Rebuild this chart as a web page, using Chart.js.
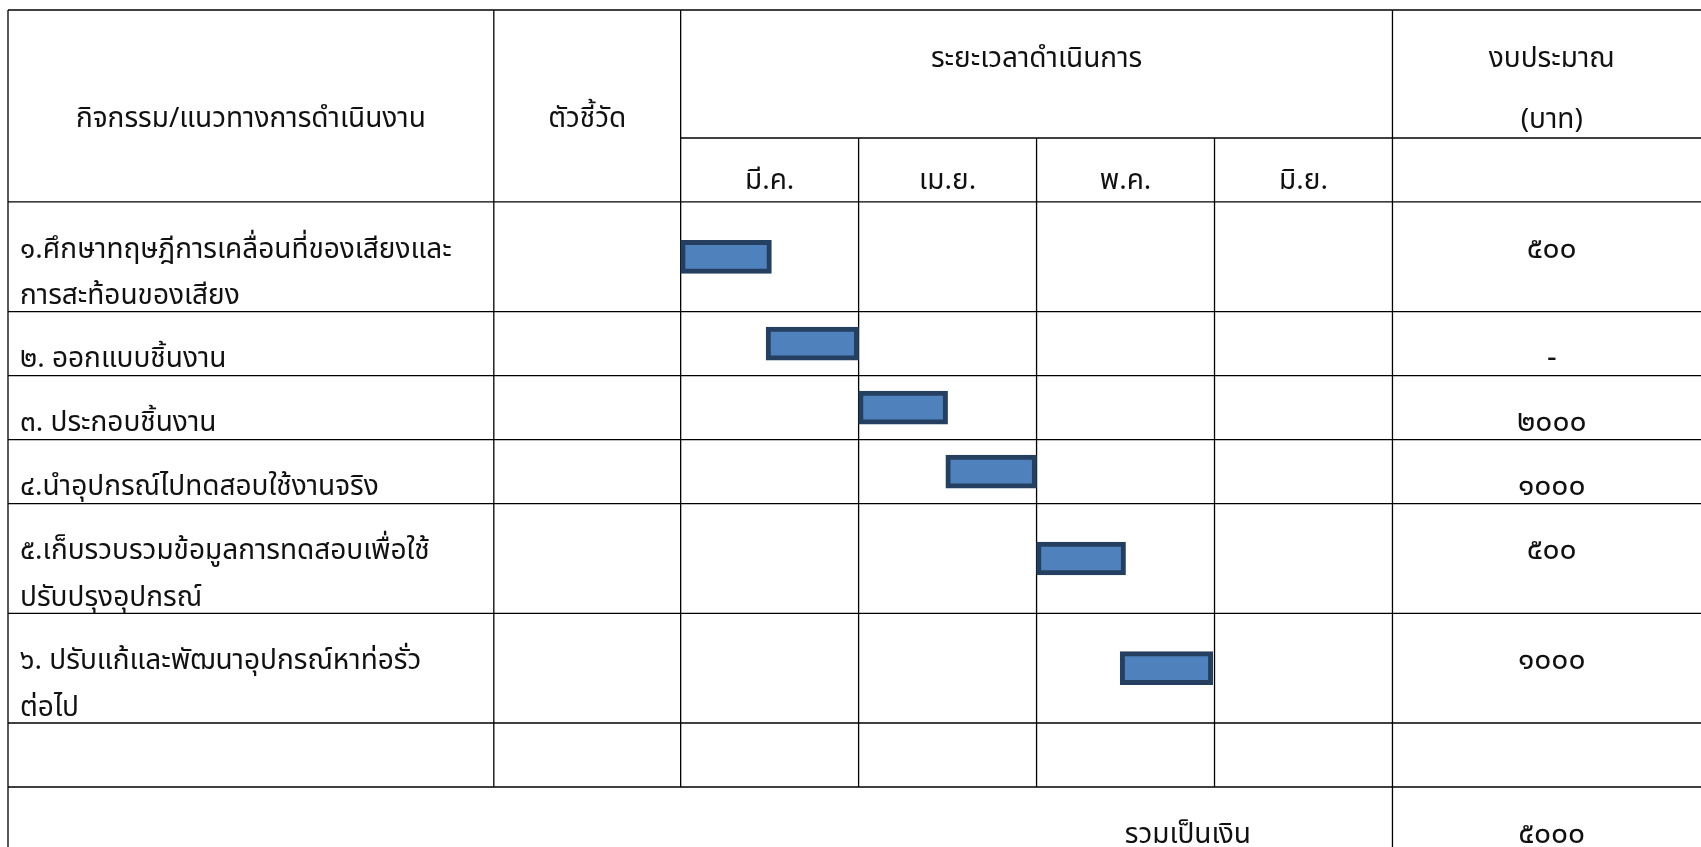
<!DOCTYPE html>
<html lang="th">
<head>
    <meta charset="UTF-8">
    <title>แผนการดำเนินงาน</title>
    <script src="https://cdn.jsdelivr.net/npm/chart.js"></script>
    <style>
        html, body { margin: 0; padding: 0; background: #fff; overflow: hidden; }
        #wrap { width: 1720px; height: 860px; }
    </style>
</head>
<body>
    <div id="wrap"><canvas id="plan" width="1720" height="860"></canvas></div>

    <script>
        // --- données ---
        const headActivity = 'กิจกรรม/แนวทางการดำเนินงาน';
        const headIndicator = 'ตัวชี้วัด';
        const headPeriod = 'ระยะเวลาดำเนินการ';
        const headBudget = ['งบประมาณ', '(บาท)'];
        const months = ['มี.ค.', 'เม.ย.', 'พ.ค.', 'มิ.ย.'];
        const activities = [
            ['๑.ศึกษาทฤษฎีการเคลื่อนที่ของเสียงและ', 'การสะท้อนของเสียง'],
            ['๒. ออกแบบชิ้นงาน'],
            ['๓. ประกอบชิ้นงาน'],
            ['๔.นำอุปกรณ์ไปทดสอบใช้งานจริง'],
            ['๕.เก็บรวบรวมข้อมูลการทดสอบเพื่อใช้', 'ปรับปรุงอุปกรณ์'],
            ['๖. ปรับแก้และพัฒนาอุปกรณ์หาท่อรั่ว', 'ต่อไป']
        ];
        const budgets = ['๕๐๐', '-', '๒๐๐๐', '๑๐๐๐', '๕๐๐', '๑๐๐๐'];
        // début / fin en mois (0 = début mars)
        const barStart = [0, 0.48, 1, 1.49, 2, 2.47];
        const barEnd = [0.51, 1, 1.5, 2, 2.5, 2.99];
        const totalLabel = 'รวมเป็นเงิน';
        const totalBudget = '๕๐๐๐';

        // --- mise en page (unités : mois en x, lignes de texte en y) ---
        const COL = { activity: 2.73, indicator: 1.05, budget: 1.79 };
        const ROW_PAD = 0.4;
        const HEAD_TOP = 2.8;
        const HEAD_MONTH = 1.4;
        const FONT = "'Noto Sans Thai', 'Leelawadee UI', Tahoma, 'Noto Sans', sans-serif";
        const FONT_SIZE = 28;
        const NUM_SIZE = 30;

        const xLeft = -(COL.activity + COL.indicator);
        const xInd = -COL.indicator;
        const xBudget = months.length;
        const xRight = months.length + COL.budget;

        // limites des lignes du tableau
        const rowTops = [];
        let yCur = HEAD_TOP + HEAD_MONTH;
        activities.forEach(lines => {
            rowTops.push(yCur);
            yCur += lines.length + ROW_PAD;
        });
        const yEmpty = yCur;
        const yTotal = yEmpty + 1 + ROW_PAD;
        const yMax = yTotal + 1 + ROW_PAD;

        const bars = activities.map((lines, i) => ({
            x: [barStart[i], barEnd[i]],
            y: rowTops[i] + (lines.length + ROW_PAD) / 2
        }));

        const tablePlugin = {
            id: 'tablePlugin',
            beforeDatasetsDraw(chart) {
                const ctx = chart.ctx;
                const px = v => chart.scales.x.getPixelForValue(v);
                const py = v => chart.scales.y.getPixelForValue(v);
                ctx.save();
                ctx.strokeStyle = '#000';
                ctx.lineWidth = 1.3;
                const hLine = (y, a, b) => { ctx.beginPath(); ctx.moveTo(px(a), py(y)); ctx.lineTo(px(b), py(y)); ctx.stroke(); };
                const vLine = (x, a, b) => { ctx.beginPath(); ctx.moveTo(px(x), py(a)); ctx.lineTo(px(x), py(b)); ctx.stroke(); };

                hLine(0, xLeft, xRight);
                hLine(HEAD_TOP, 0, xRight);
                hLine(HEAD_TOP + HEAD_MONTH, xLeft, xRight);
                rowTops.forEach((t, i) => { if (i > 0) hLine(t, xLeft, xRight); });
                hLine(yEmpty, xLeft, xRight);
                hLine(yTotal, xLeft, xRight);
                hLine(yMax, xLeft, xRight);

                vLine(xLeft, 0, yMax);
                vLine(xInd, 0, yTotal);
                vLine(0, 0, yTotal);
                for (let m = 1; m < months.length; m++) vLine(m, HEAD_TOP, yTotal);
                vLine(xBudget, 0, yMax);
                vLine(xRight, 0, yMax);
                ctx.restore();
            },
            afterDatasetsDraw(chart) {
                const ctx = chart.ctx;
                const px = v => chart.scales.x.getPixelForValue(v);
                const py = v => chart.scales.y.getPixelForValue(v);
                const textFont = FONT_SIZE + 'px ' + FONT;
                const numFont = NUM_SIZE + 'px ' + FONT;
                const xMid = (xBudget + xRight) / 2;
                ctx.save();
                ctx.fillStyle = '#111';
                ctx.font = textFont;
                ctx.textBaseline = 'alphabetic';

                // en-têtes
                ctx.textAlign = 'center';
                ctx.fillText(headActivity, px((xLeft + xInd) / 2), py(2.56));
                ctx.fillText(headIndicator, px((xInd + 0) / 2), py(2.56));
                ctx.fillText(headPeriod, px(months.length / 2), py(1.25));
                ctx.fillText(headBudget[0], px(xMid), py(1.25));
                ctx.fillText(headBudget[1], px(xMid), py(2.58));
                months.forEach((m, i) => ctx.fillText(m, px(i + 0.5), py(HEAD_TOP + 1.12)));

                // lignes d'activités
                activities.forEach((lines, i) => {
                    ctx.font = textFont;
                    ctx.textAlign = 'left';
                    lines.forEach((txt, k) => {
                        ctx.fillText(txt, px(xLeft) + 12, py(rowTops[i] + 1.22 + k * 1.02));
                    });
                    ctx.font = numFont;
                    ctx.textAlign = 'center';
                    ctx.fillText(budgets[i], px(xMid), py(rowTops[i] + 1.22));
                });

                // total
                ctx.textAlign = 'center';
                ctx.font = textFont;
                ctx.fillText(totalLabel, px(2.85), py(yTotal + 1.22));
                ctx.font = numFont;
                ctx.fillText(totalBudget, px(xMid), py(yTotal + 1.22));
                ctx.restore();
            }
        };

        new Chart(document.getElementById('plan'), {
            type: 'bar',
            data: {
                datasets: [{
                    data: bars,
                    backgroundColor: '#4F81BD',
                    borderColor: '#243F60',
                    borderWidth: 5,
                    borderSkipped: false,
                    barThickness: 33
                }]
            },
            options: {
                indexAxis: 'y',
                responsive: false,
                animation: false,
                layout: { padding: { left: 8, top: 10, right: 9, bottom: 9 } },
                plugins: { legend: { display: false }, tooltip: { enabled: false } },
                scales: {
                    x: { type: 'linear', min: xLeft, max: xRight, offset: false, display: false },
                    y: { type: 'linear', min: 0, max: yMax, reverse: true, offset: false, display: false }
                }
            },
            plugins: [tablePlugin]
        });
    </script>
</body>
</html>
